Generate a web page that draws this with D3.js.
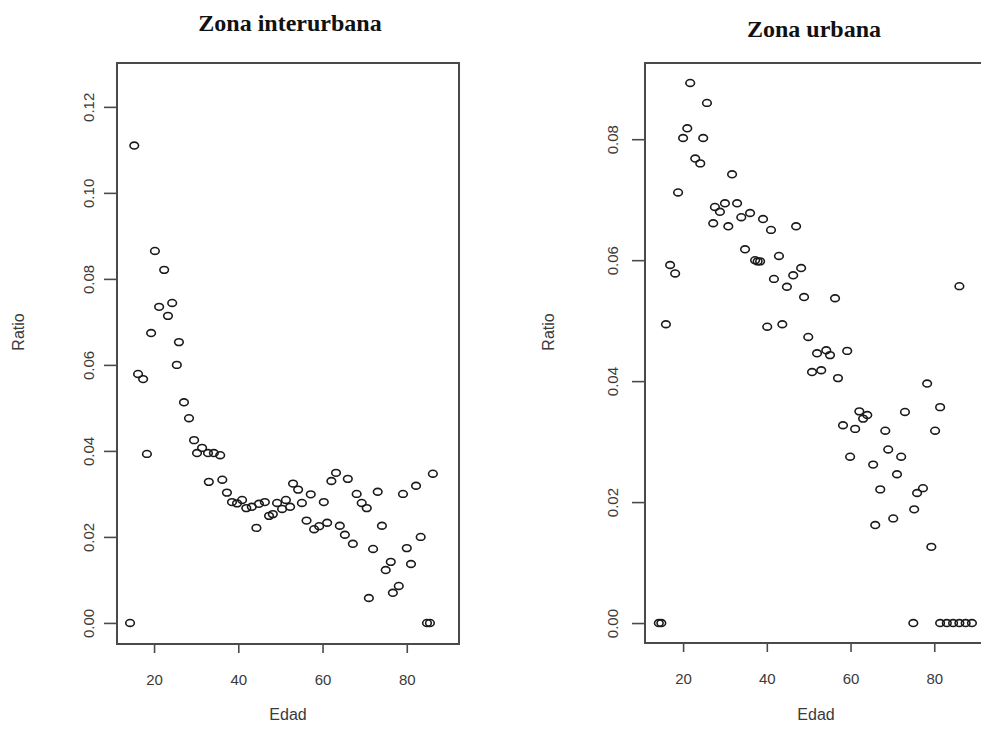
<!DOCTYPE html>
<html>
<head>
<meta charset="utf-8">
<script src="https://cdn.jsdelivr.net/npm/d3@7"></script>
<style>
  body { margin: 0; background: #fff; }
  svg { display: block; }
</style>
</head>
<body>
<div id="chartDiv"></div>
<script>
// data: age (Edad) and ratio per panel
var interAge = [14.3, 15.3, 16.2, 17.4, 18.3, 19.3, 20.2, 21.2, 22.4, 23.3, 24.3, 25.4, 25.9, 27.1, 28.3,
  29.5, 30.2, 31.4, 32.8, 33.0, 34.2, 35.7, 36.2, 37.3, 38.5, 39.7, 40.9, 41.9, 43.2, 44.3, 44.9,
  46.3, 47.3, 48.2, 49.2, 50.4, 51.3, 52.3, 53.0, 54.2, 55.1, 56.2, 57.2, 58.0, 59.2, 60.3, 61.1,
  62.1, 63.2, 64.1, 65.3, 66.0, 67.2, 68.1, 69.3, 70.5, 71.0, 72.0, 73.1, 74.1, 75.0, 76.2, 76.7,
  78.1, 79.1, 80.0, 81.0, 82.2, 83.3, 84.8, 85.5, 86.2]
var interRatio = [0.000, 0.111, 0.0579, 0.0567, 0.0393, 0.0674, 0.0865, 0.0735, 0.0821, 0.0714, 0.0744, 0.0600, 0.0653, 0.0513, 0.0476,
  0.0425, 0.0395, 0.0407, 0.0395, 0.0328, 0.0395, 0.0390, 0.0333, 0.0303, 0.0281, 0.0278, 0.0286, 0.0267, 0.0270, 0.0221, 0.0277,
  0.0281, 0.0249, 0.0253, 0.0279, 0.0265, 0.0286, 0.0270, 0.0324, 0.0310, 0.0279, 0.0238, 0.0299, 0.0218, 0.0225, 0.0281, 0.0233,
  0.0330, 0.0349, 0.0226, 0.0205, 0.0335, 0.0184, 0.0300, 0.0279, 0.0267, 0.0058, 0.0172, 0.0305, 0.0226, 0.0123, 0.0142, 0.0070,
  0.0086, 0.0300, 0.0174, 0.0137, 0.0319, 0.0200, 0.000, 0.000, 0.0347]

var urbAge = [14.2, 14.8, 15.9, 16.9, 18.1, 18.8, 20.0, 21.0, 21.7, 22.9, 24.1, 24.8, 25.7, 27.2, 27.6,
  28.8, 30.0, 30.8, 31.7, 32.9, 33.9, 34.8, 36.0, 37.2, 37.8, 38.4, 39.1, 40.1, 41.0, 41.7, 42.9,
  43.7, 44.8, 46.3, 47.0, 48.2, 48.9, 49.9, 50.8, 52.0, 53.0, 54.2, 55.1, 56.3, 57.0, 58.2, 59.2,
  59.9, 61.1, 62.1, 63.0, 64.0, 65.4, 65.9, 67.1, 68.3, 69.0, 70.2, 71.1, 72.1, 73.0, 75.0, 75.2,
  75.9, 77.3, 78.3, 79.3, 80.2, 81.4, 81.4, 83.0, 84.5, 86.0, 86.0, 87.5, 89.0]
var urbRatio = [0.000, 0.000, 0.0494, 0.0592, 0.0578, 0.0712, 0.0802, 0.0818, 0.0893, 0.0768, 0.0760, 0.0802, 0.0860, 0.0661, 0.0688,
  0.0680, 0.0694, 0.0656, 0.0742, 0.0694, 0.0671, 0.0618, 0.0678, 0.0600, 0.0598, 0.0598, 0.0668, 0.0490, 0.0650, 0.0569, 0.0607,
  0.0494, 0.0556, 0.0575, 0.0656, 0.0587, 0.0539, 0.0473, 0.0415, 0.0446, 0.0418, 0.0451, 0.0443, 0.0537, 0.0405, 0.0327, 0.0450,
  0.0275, 0.0321, 0.0350, 0.0338, 0.0344, 0.0262, 0.0162, 0.0221, 0.0318, 0.0287, 0.0173, 0.0246, 0.0275, 0.0349, 0.000, 0.0188,
  0.0215, 0.0223, 0.0396, 0.0126, 0.0318, 0.0357, 0.000, 0.000, 0.000, 0.0557, 0.000, 0.000, 0.000]

var xTicks = [20, 40, 60, 80]
var interYTicks = [0, 0.02, 0.04, 0.06, 0.08, 0.10, 0.12]
var urbYTicks = [0, 0.02, 0.04, 0.06, 0.08]

var width = 981, height = 734

var svg = d3.select("#chartDiv")
  .append("svg")
    .attr("width", width)
    .attr("height", height)

var labelColor = "#3a3a3a"
var boxColor = "#4a4a4a"

function drawPanel(p) {
  var xScale = d3.scaleLinear().domain(p.xDomain).range([p.left, p.right])
  var yScale = d3.scaleLinear().domain(p.yDomain).range([p.bottom, p.top])

  var g = svg.append("g")

  // x axis
  var gx = g.append("g")
    .attr("transform", "translate(0," + p.bottom + ")")
    .call(d3.axisBottom(xScale).tickValues(xTicks).tickSize(9).tickPadding(21).tickFormat(d3.format("d")))
  gx.select(".domain").remove()
  gx.selectAll("line").attr("stroke", boxColor).attr("stroke-width", 1.6)
  gx.selectAll("text")
    .attr("fill", labelColor)
    .style("font-family", "Liberation Sans, Arial, sans-serif")
    .style("font-size", "15px")

  // y axis, labels rotated as in R
  var gy = g.append("g")
    .attr("transform", "translate(" + p.left + ",0)")
    .call(d3.axisLeft(yScale).tickValues(p.yTicks).tickSize(13).tickFormat(d3.format(".2f")))
  gy.select(".domain").remove()
  gy.selectAll("line").attr("stroke", boxColor).attr("stroke-width", 1.6)
  gy.selectAll("text")
    .attr("transform", "rotate(-90)")
    .attr("x", 0)
    .attr("y", -p.yLabelOff)
    .attr("dy", null)
    .attr("text-anchor", "middle")
    .attr("fill", labelColor)
    .style("font-family", "Liberation Sans, Arial, sans-serif")
    .style("font-size", "15px")

  // box
  g.append("rect")
    .attr("x", p.left)
    .attr("y", p.top)
    .attr("width", p.right - p.left)
    .attr("height", p.bottom - p.top)
    .attr("fill", "none")
    .attr("stroke", boxColor)
    .attr("stroke-width", 2)

  // points
  var pts = p.ages.map(function(a, i) { return [a, p.ratios[i]] })
  g.append("g")
    .selectAll("ellipse")
    .data(pts)
    .enter().append("ellipse")
      .attr("cx", function(d) { return xScale(d[0]) })
      .attr("cy", function(d) { return yScale(d[1]) })
      .attr("rx", 4.3)
      .attr("ry", 3.4)
      .attr("fill", "none")
      .attr("stroke", "#1a1a1a")
      .attr("stroke-width", 1.6)

  // titles and axis labels
  svg.append("text")
    .attr("x", p.titleX)
    .attr("y", p.titleY)
    .attr("text-anchor", "middle")
    .style("font-family", "Liberation Serif, Times New Roman, serif")
    .style("font-weight", "bold")
    .style("font-size", "24px")
    .attr("fill", "#111")
    .text(p.title)

  svg.append("text")
    .attr("x", (p.left + p.right) / 2)
    .attr("y", 720)
    .attr("text-anchor", "middle")
    .attr("fill", labelColor)
    .style("font-family", "Liberation Sans, Arial, sans-serif")
    .style("font-size", "16px")
    .text("Edad")

  svg.append("text")
    .attr("transform", "translate(" + p.ratioX + "," + p.ratioY + ") rotate(-90)")
    .attr("text-anchor", "middle")
    .attr("fill", labelColor)
    .style("font-family", "Liberation Sans, Arial, sans-serif")
    .style("font-size", "16px")
    .text("Ratio")
}

drawPanel({
  title: "Zona interurbana", titleX: 290, titleY: 31,
  left: 117, right: 459, top: 63, bottom: 644,
  xDomain: [11.2, 92.4], yDomain: [-0.0049, 0.1302],
  yTicks: interYTicks, yLabelOff: 23,
  ages: interAge, ratios: interRatio,
  ratioX: 24, ratioY: 332
})

drawPanel({
  title: "Zona urbana", titleX: 814, titleY: 37,
  left: 645, right: 987, top: 63, bottom: 643,
  xDomain: [10.9, 92.6], yDomain: [-0.0033, 0.0926],
  yTicks: urbYTicks, yLabelOff: 27,
  ages: urbAge, ratios: urbRatio,
  ratioX: 554, ratioY: 332
})
</script>
</body>
</html>
